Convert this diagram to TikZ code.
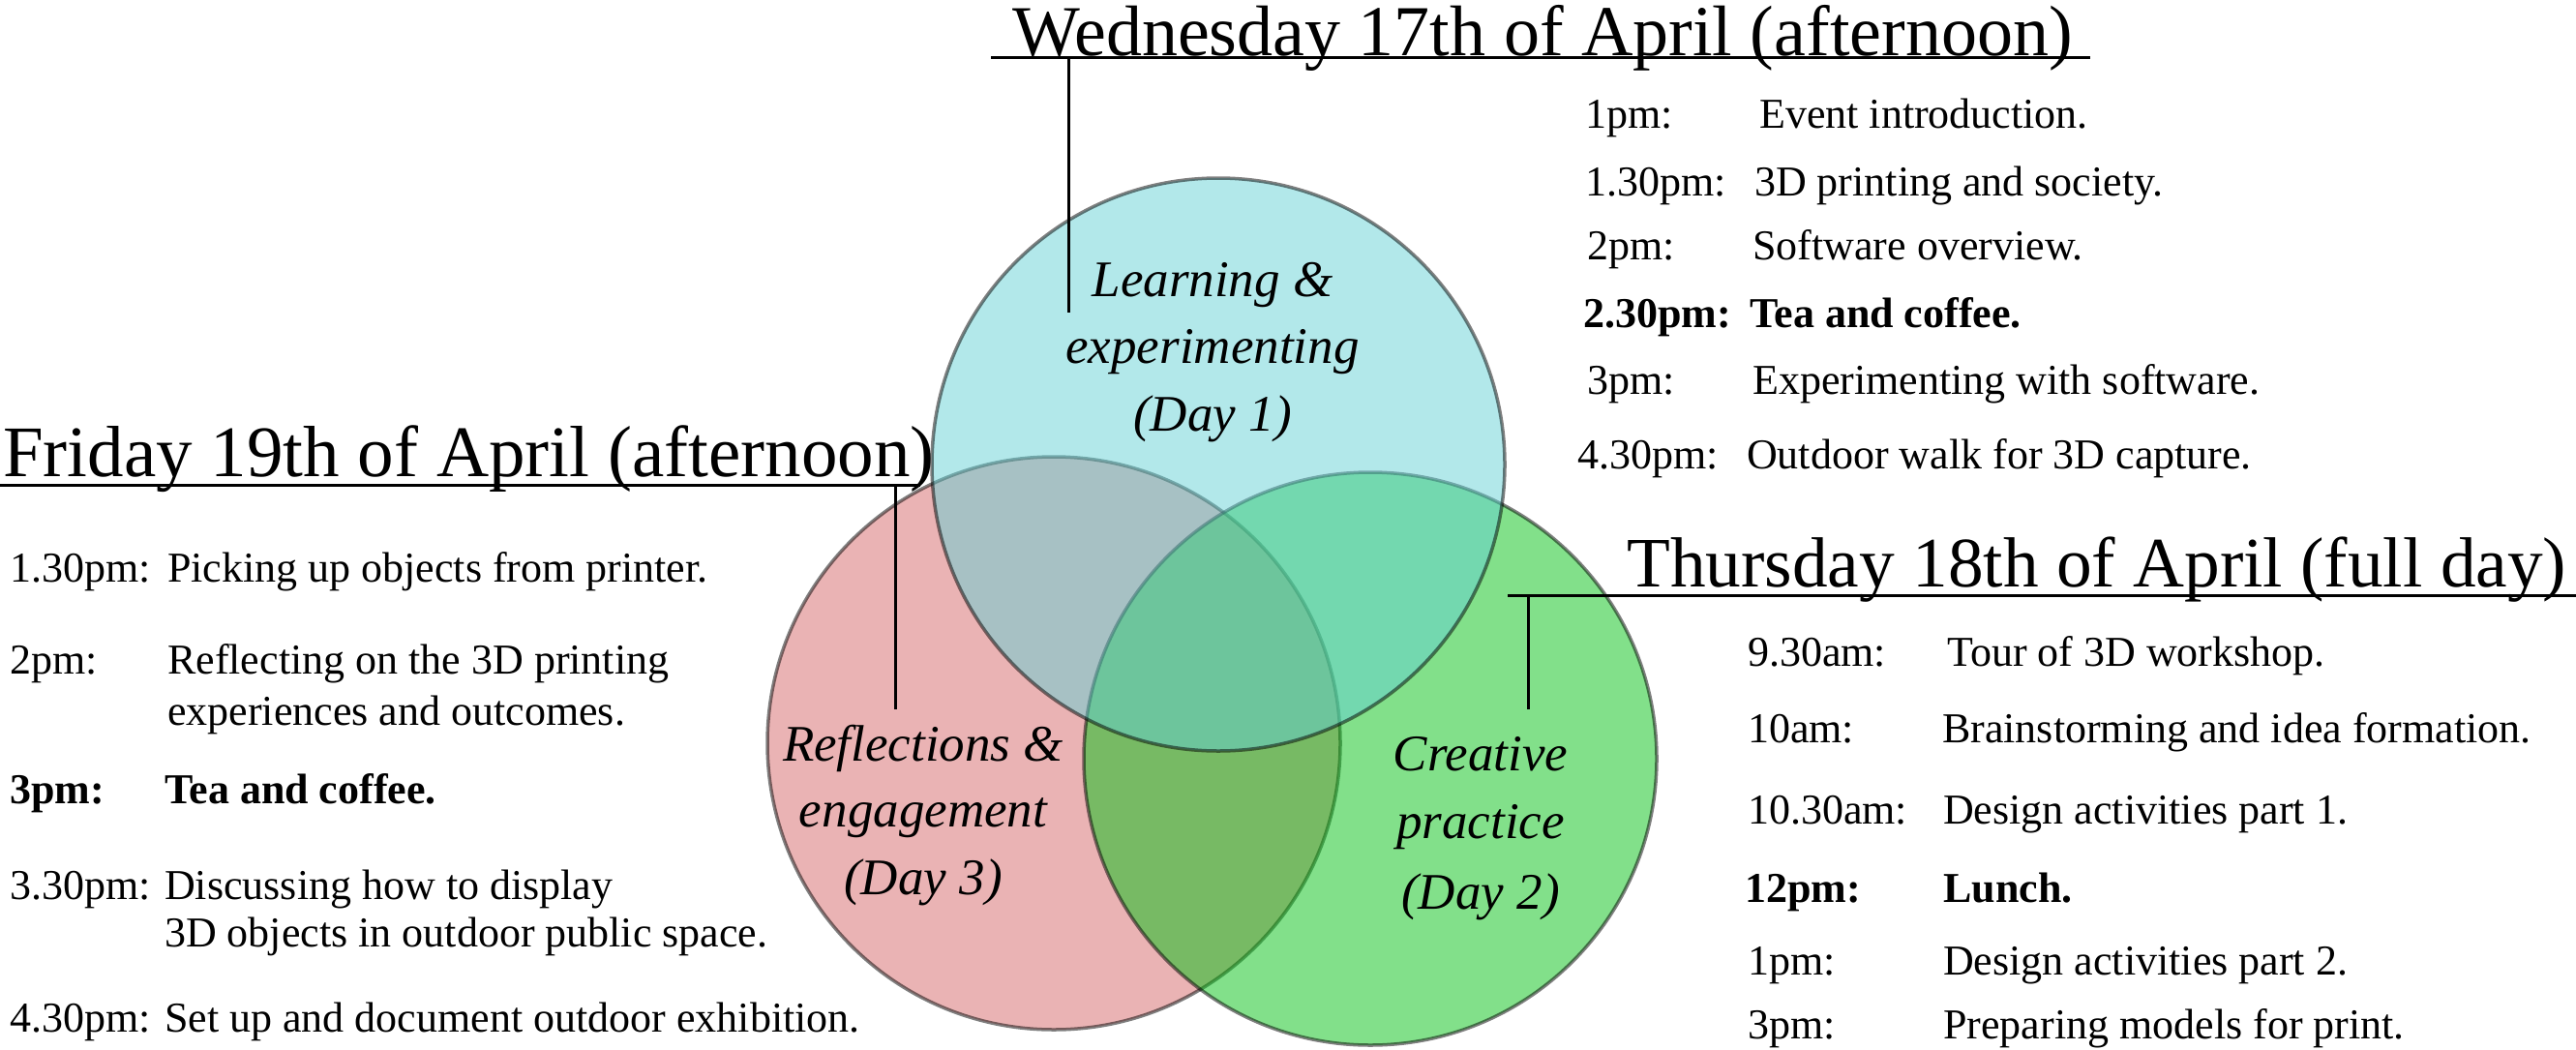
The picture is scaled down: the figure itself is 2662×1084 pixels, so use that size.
\documentclass[tikz,border=0pt]{standalone}
\usepackage{fontspec}
\setmainfont{Liberation Serif}
\definecolor{cblue}{RGB}{101,209,213}
\definecolor{cred}{RGB}{213,103,105}
\definecolor{cgreen}{RGB}{5,193,21}
\tikzset{
  venn/.style={circle, minimum size=592pt, inner sep=0pt, draw=black, draw opacity=0.5, fill opacity=0.5, line width=3.5pt},
  daytitle/.style={anchor=base west, inner sep=0pt, font=\fontsize{75}{80}\selectfont},
  sched/.style={anchor=base west, inner sep=0pt, font=\fontsize{44}{48}\selectfont},
  schedb/.style={sched, font=\fontsize{44}{48}\selectfont\bfseries},
  lab/.style={anchor=base, inner sep=0pt, font=\fontsize{53}{58}\selectfont\itshape},
  rulel/.style={line width=3pt}
}
\begin{document}
\begin{tikzpicture}[x=1pt,y=-1pt]
\useasboundingbox (0,0) rectangle (2662,1084);
% circles
\node[venn, fill=cred] (red) at (1089,768) {};
\node[venn, fill=cgreen] (green) at (1416,784) {};
\node[venn, fill=cblue] (blue) at (1259,480) {};
% circle labels
\node[lab] (l1a) at (1253,306) {Learning \&};
\node[lab] (l1b) at (1253,375) {experimenting};
\node[lab] (l1c) at (1253,445) {(Day 1)};
\node[lab] (l3a) at (954,786) {Reflections \&};
\node[lab] (l3b) at (954,854) {engagement};
\node[lab] (l3c) at (954,924) {(Day 3)};
\node[lab] (l2a) at (1530,796) {Creative};
\node[lab] (l2b) at (1530,866) {practice};
\node[lab] (l2c) at (1530,939) {(Day 2)};
% titles
\node[daytitle, font=\fontsize{74}{80}\selectfont] (wedT) at (1046,57) {Wednesday 17th of April (afternoon)};
\node[daytitle] (friT) at (3,492) {Friday 19th of April (afternoon)};
\node[daytitle, font=\fontsize{73.3}{78}\selectfont] (thuT) at (1681,606) {Thursday 18th of April (full day)};
% underlines and connectors
\coordinate (wedL) at (1024,59); \coordinate (wedR) at (2160,59);
\coordinate (wedA) at (1104,59); \coordinate (wedB) at (1104,323);
\draw[rulel] (wedL) -- (wedR);
\draw[rulel] (wedA) -- (wedB);
\coordinate (friL) at (0,501); \coordinate (friR) at (951,501);
\coordinate (friA) at (925,501); \coordinate (friB) at (925,733);
\draw[rulel] (friL) -- (friR);
\draw[rulel] (friA) -- (friB);
\coordinate (thuL) at (1558,615); \coordinate (thuR) at (2662,615);
\coordinate (thuA) at (1579,615); \coordinate (thuB) at (1579,733);
\draw[rulel] (thuL) -- (thuR);
\draw[rulel] (thuA) -- (thuB);
% Wednesday schedule
\node[sched] (w1t) at (1638,132) {1pm:};
\node[sched] (w1d) at (1818,132) {Event introduction.};
\node[sched] (w2t) at (1638,202) {1.30pm:};
\node[sched] (w2d) at (1813,202) {3D printing and society.};
\node[sched] (w3t) at (1640,268) {2pm:};
\node[sched] (w3d) at (1811,268) {Software overview.};
\node[schedb] (w4t) at (1636,338) {2.30pm:};
\node[schedb] (w4d) at (1808,338) {Tea and coffee.};
\node[sched] (w5t) at (1640,407) {3pm:};
\node[sched] (w5d) at (1811,407) {Experimenting with software.};
\node[sched] (w6t) at (1630,484) {4.30pm:};
\node[sched] (w6d) at (1805,484) {Outdoor walk for 3D capture.};
% Friday schedule
\node[sched] (f1t) at (10,601) {1.30pm:};
\node[sched] (f1d) at (173,601) {Picking up objects from printer.};
\node[sched] (f2t) at (10,696) {2pm:};
\node[sched] (f2d) at (173,696) {Reflecting on the 3D printing};
\node[sched] (f2e) at (173,749) {experiences and outcomes.};
\node[schedb] (f3t) at (10,830) {3pm:};
\node[schedb] (f3d) at (170,830) {Tea and coffee.};
\node[sched] (f4t) at (10,929) {3.30pm:};
\node[sched] (f4d) at (170,929) {Discussing how to display};
\node[sched] (f4e) at (170,978) {3D objects in outdoor public space.};
\node[sched] (f5t) at (10,1066) {4.30pm:};
\node[sched] (f5d) at (170,1066) {Set up and document outdoor exhibition.};
% Thursday schedule
\node[sched] (t1t) at (1806,688) {9.30am:};
\node[sched] (t1d) at (2012,688) {Tour of 3D workshop.};
\node[sched] (t2t) at (1806,767) {10am:};
\node[sched] (t2d) at (2007,767) {Brainstorming and idea formation.};
\node[sched] (t3t) at (1806,851) {10.30am:};
\node[sched] (t3d) at (2008,851) {Design activities part 1.};
\node[schedb] (t4t) at (1803,932) {12pm:};
\node[schedb] (t4d) at (2008,932) {Lunch.};
\node[sched] (t5t) at (1806,1007) {1pm:};
\node[sched] (t5d) at (2008,1007) {Design activities part 2.};
\node[sched] (t6t) at (1806,1073) {3pm:};
\node[sched] (t6d) at (2008,1073) {Preparing models for print.};
\end{tikzpicture}
\end{document}
